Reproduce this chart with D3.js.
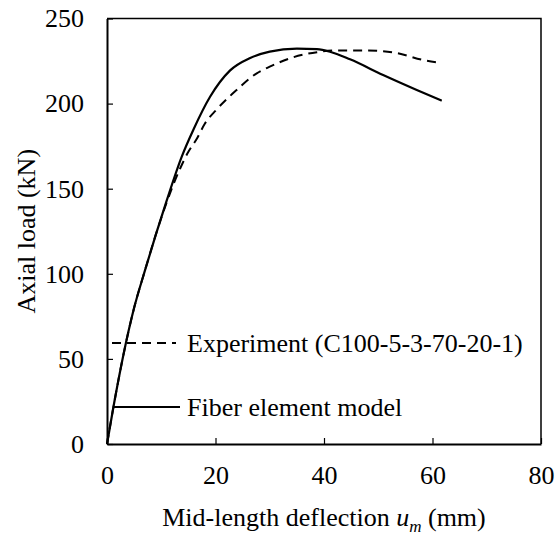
<!DOCTYPE html>
<html>
<head>
<meta charset="utf-8">
<script src="https://cdn.jsdelivr.net/npm/d3@7"></script>
<style>
  html, body { margin: 0; padding: 0; background: #fff; }
  svg { display: block; }
</style>
</head>
<body>
<svg id="chart" width="558" height="535"></svg>
<script>
// ---- data ----
const xTicks = [0, 20, 40, 60, 80];
const yTicks = [0, 50, 100, 150, 200, 250];

const experimentX = [0, 1.2, 3, 5, 7, 9, 11, 13.5, 15, 16.5, 18, 20.2, 23.9, 27.6, 30, 34.3, 38.7, 42.3, 47.9, 53.4, 58.3, 61.4];
const experimentY = [0, 22, 52, 80, 102, 123, 142, 162, 171.7, 179, 188, 196.5, 208, 217.8, 221.7, 227.2, 230.2, 231.2, 231.2, 229.7, 225.6, 224];

const fiberX = [0, 1.2, 3, 5, 7, 9, 11, 13.8, 15.9, 19, 22.7, 26.4, 30, 35, 38.7, 41.1, 44.8, 50.9, 57.1, 61.7];
const fiberY = [0, 22, 52, 80, 102, 123, 143, 169, 184.5, 204, 219.5, 226.8, 230.5, 232.3, 232, 230.5, 226, 216.8, 208, 201.7];

const legendLabels = ["Experiment (C100-5-3-70-20-1)", "Fiber element model"];

// ---- layout ----
const mLeft = 107, mTop = 18.5, mRight = 541, mBottom = 444;
const FS = 26;
const FONT = '"Liberation Serif"';

const svg = d3.select("#chart");
const x = d3.scaleLinear().domain([0, 80]).range([mLeft, mRight]);
const y = d3.scaleLinear().domain([0, 250]).range([mBottom, mTop]);

// frame (top & right)
svg.append("path")
  .attr("d", `M${mLeft},${mTop}H${mRight}V${mBottom}`)
  .attr("fill", "none").attr("stroke", "#000").attr("stroke-width", 1.5);

// axes
const xAxis = d3.axisBottom(x).tickValues(xTicks).tickSizeInner(-6).tickSizeOuter(0).tickPadding(22);
const yAxis = d3.axisLeft(y).tickValues(yTicks).tickSizeInner(-6).tickSizeOuter(0).tickPadding(23);

const gx = svg.append("g").attr("transform", `translate(0,${mBottom})`).call(xAxis);
const gy = svg.append("g").attr("transform", `translate(${mLeft},0)`).call(yAxis);
[gx, gy].forEach(g => {
  g.attr("font-family", null).attr("font-size", null);
  g.select(".domain").attr("stroke", "#000").attr("stroke-width", 2);
  g.selectAll(".tick line").attr("stroke", "#000").attr("stroke-width", 1.2);
  g.selectAll(".tick text").style("font-family", FONT).style("font-size", FS + "px").attr("fill", "#000");
});

// curves
const line = d3.line().x(d => x(d[0])).y(d => y(d[1])).curve(d3.curveMonotoneX);
const expData = experimentX.map((v, i) => [v, experimentY[i]]);
const fibData = fiberX.map((v, i) => [v, fiberY[i]]);

svg.append("path").datum(expData).attr("d", line)
  .attr("fill", "none").attr("stroke", "#000").attr("stroke-width", 2)
  .attr("stroke-dasharray", "9,6");
svg.append("path").datum(fibData).attr("d", line)
  .attr("fill", "none").attr("stroke", "#000").attr("stroke-width", 2.2);

// legend
const leg = [
  { y: 343, dash: "9,6", x1: 112, x2: 176 },
  { y: 407, dash: null, x1: 113, x2: 180 }
];
leg.forEach((l, i) => {
  const ln = svg.append("line").attr("x1", l.x1).attr("x2", l.x2).attr("y1", l.y).attr("y2", l.y)
    .attr("stroke", "#000").attr("stroke-width", 2);
  if (l.dash) ln.attr("stroke-dasharray", l.dash);
  svg.append("text").attr("x", 187).attr("y", l.y).attr("dy", "0.33em")
    .style("font-family", FONT).style("font-size", FS + "px").attr("fill", "#000").text(legendLabels[i]);
});

// axis titles
const xt = svg.append("text").attr("x", (mLeft + mRight) / 2).attr("y", 526)
  .attr("text-anchor", "middle").style("font-family", FONT).style("font-size", FS + "px").attr("fill", "#000");
xt.append("tspan").text("Mid-length deflection ");
xt.append("tspan").style("font-style", "italic").text("u");
xt.append("tspan").style("font-style", "italic").style("font-size", "17px").attr("dy", 6).text("m");
xt.append("tspan").attr("dy", -6).text(" (mm)");

svg.append("text").attr("transform", `translate(35,${(mTop + mBottom) / 2}) rotate(-90)`)
  .attr("text-anchor", "middle").style("font-family", FONT).style("font-size", FS + "px").attr("fill", "#000")
  .text("Axial load (kN)");
</script>
</body>
</html>
